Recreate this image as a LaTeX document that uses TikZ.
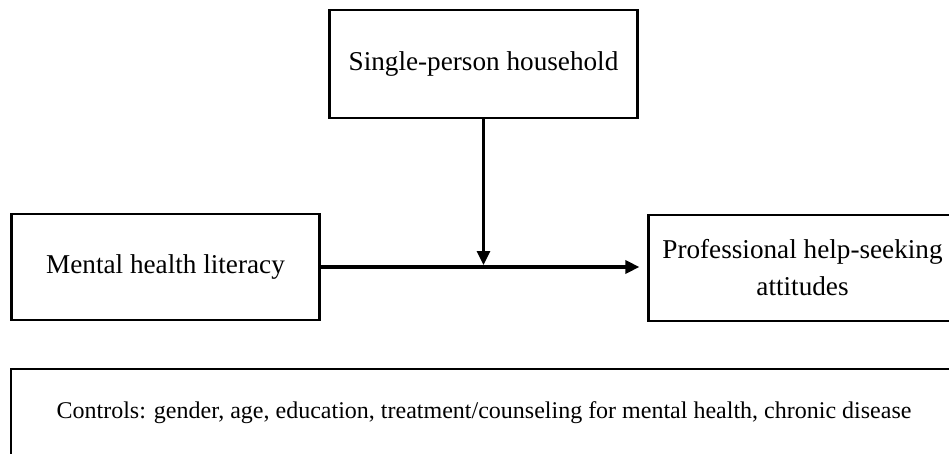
\documentclass[tikz,border=0pt]{standalone}
\usepackage{fontspec}
\setmainfont{Liberation Serif}
\usetikzlibrary{arrows.meta,positioning}
\begin{document}
\begin{tikzpicture}[x=1pt,y=1pt,>={Triangle[length=14pt,width=13pt]},
		box/.style={draw,line width=2.2pt,minimum width=308pt,minimum height=106pt,align=center,font=\fontsize{27.2}{37}\selectfont},
		link/.style={line width=3.4pt}]
	\clip (0,0) rectangle (949,453);
	\node[box,minimum height=108pt] (single) at (483.5,389) {Single-person household};
	\node[box] (lit) at (165.5,186) {Mental health literacy};
	\node[box] (attit) at (802.5,185) {Professional help-seeking\\attitudes};
	\node[box,minimum width=946pt,minimum height=88pt,font=\fontsize{24}{28}\selectfont] (ctrl) at (484,40)
		{Controls: gender, age, education, treatment/counseling for mental health, chronic disease};
	\draw[link,->,shorten >=8pt] (lit.east) -- (lit.east -| attit.west);
	\coordinate (join) at (single.south |- lit.east);
	\draw[link,line width=3pt,->] (single.south) -- ([yshift=2pt]join);
\end{tikzpicture}
\end{document}
